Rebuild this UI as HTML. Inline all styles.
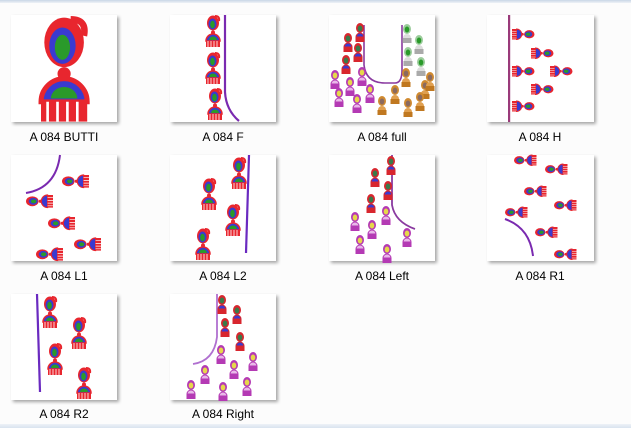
<!DOCTYPE html>
<html><head><meta charset="utf-8"><style>
html,body{margin:0;padding:0;background:#fcfcfc;}
body{width:631px;height:428px;position:relative;overflow:hidden;font-family:"Liberation Sans",sans-serif;}
.top{position:absolute;left:0;top:0;width:631px;height:3px;background:linear-gradient(#c9d6e6,#eef2f7);}
.bot{position:absolute;left:0;top:424px;width:631px;height:4px;background:linear-gradient(#eef2f7,#d9e3ef);}
.lab{position:absolute;width:150px;text-align:center;font-size:12px;color:#000;}
svg{position:absolute;left:0;top:0;}
</style></head><body>
<div class="top"></div><div class="bot"></div>
<svg width="631" height="428" viewBox="0 0 631 428">
<defs>
<filter id="sh" x="-10%" y="-10%" width="130%" height="130%"><feDropShadow dx="2" dy="2" stdDeviation="1.5" flood-color="#000" flood-opacity="0.35"/></filter>
<g id="V">
 <ellipse cx="7" cy="8" rx="6" ry="7.5" fill="#e8262e"/>
 <path d="M9 1 q5 0 4 5" stroke="#e8262e" stroke-width="2" fill="none"/>
 <ellipse cx="6.5" cy="9" rx="4" ry="5.5" fill="#3a3ad0"/>
 <ellipse cx="6.5" cy="9.5" rx="2.3" ry="3.8" fill="#2a9a2a"/>
 <circle cx="7" cy="17.5" r="2" fill="#e8262e"/>
 <path d="M0 26 a7 7 0 0 1 14 0z" fill="#3a3ad0" stroke="#e8262e" stroke-width="1.5"/>
 <path d="M3 25 a4 3.5 0 0 1 8 0z" fill="#2a9a2a"/>
 <rect x="0" y="26" width="14" height="6" fill="#e8262e"/>
 <path d="M2 26v6M5 26v6M8 26v6M11 26v6" stroke="#fff" stroke-width="0.8"/>
</g>
<g id="P">
 <ellipse cx="5" cy="5" rx="4" ry="5" fill="#b43ab4"/>
 <ellipse cx="5" cy="5.5" rx="2.3" ry="3" fill="#e6d84a"/>
 <path d="M1 14 a4 4 0 0 1 8 0z" fill="#e9b8e9" stroke="#b43ab4"/>
 <rect x="0.5" y="14" width="9" height="5" fill="#b43ab4"/>
</g>
<g id="R">
 <ellipse cx="5" cy="5" rx="4" ry="5" fill="#d8262e"/>
 <ellipse cx="5" cy="5.5" rx="2.3" ry="3" fill="#3a7a4a"/>
 <path d="M1 14 a4 4 0 0 1 8 0z" fill="#3a3ad0" stroke="#d8262e"/>
 <rect x="0.5" y="14" width="9" height="5" fill="#d8262e"/>
</g>
<g id="G">
 <ellipse cx="5" cy="5" rx="4" ry="5" fill="#9ccc9c"/>
 <ellipse cx="5" cy="5.5" rx="2.3" ry="3" fill="#2a9a2a"/>
 <path d="M1 14 a4 4 0 0 1 8 0z" fill="#ddd"/>
 <rect x="0.5" y="14" width="9" height="5" fill="#aaa"/>
</g>
<g id="O">
 <ellipse cx="5" cy="5" rx="4" ry="5" fill="#d08a30"/>
 <ellipse cx="5" cy="5.5" rx="2.3" ry="3" fill="#8a6a60"/>
 <path d="M1 14 a4 4 0 0 1 8 0z" fill="#e0a050"/>
 <rect x="0.5" y="14" width="9" height="5" fill="#c07820"/>
</g>
<g id="HL">
 <ellipse cx="7" cy="7" rx="7" ry="5.5" fill="#e8262e"/>
 <ellipse cx="8" cy="7" rx="5" ry="3.8" fill="#3a3ad0"/>
 <ellipse cx="8.5" cy="7" rx="3" ry="2.2" fill="#2a9a2a"/>
 <circle cx="16" cy="7" r="1.8" fill="#e8262e"/>
 <path d="M24 0 a7 7 0 0 0 0 14z" fill="#3a3ad0" stroke="#e8262e" stroke-width="1.3"/>
 <rect x="24" y="0" width="6" height="14" fill="#e8262e"/>
 <path d="M24 3h6M24 6h6M24 9h6M24 12h6" stroke="#fff" stroke-width="0.8"/>
</g>
<g id="HR"><use href="#HL" transform="translate(30,0) scale(-1,1)"/></g>
</defs>

<g fill="#fff" filter="url(#sh)">
<rect x="11" y="15" width="106" height="107"/><rect x="170" y="15" width="106" height="107"/><rect x="329" y="15" width="106" height="107"/><rect x="487" y="15" width="107" height="107"/>
<rect x="11" y="155" width="106" height="106"/><rect x="170" y="155" width="106" height="106"/><rect x="329" y="155" width="106" height="106"/><rect x="487" y="155" width="107" height="106"/>
<rect x="11" y="294" width="106" height="106"/><rect x="170" y="294" width="106" height="106"/>
</g>

<use href="#V" transform="translate(41,16) scale(3.3,3.3)"/>

<path d="M225 15 V92 Q226 110 239 121" stroke="#7a2ab0" stroke-width="2.2" fill="none"/>
<use href="#V" transform="translate(206,15)"/><use href="#V" transform="translate(206,52)"/><use href="#V" transform="translate(208,88)"/>

<path d="M364 25 V65 Q366 83 385 83 H395 Q402 83 402 70 V25" stroke="#8a3aa0" stroke-width="1.6" fill="none"/>
<use href="#R" transform="translate(355,23)"/><use href="#R" transform="translate(343,33)"/><use href="#R" transform="translate(353,43)"/><use href="#R" transform="translate(341,55)"/>
<use href="#P" transform="translate(330,70)"/><use href="#P" transform="translate(345,77)"/><use href="#P" transform="translate(357,67)"/><use href="#P" transform="translate(334,88)"/><use href="#P" transform="translate(352,94)"/><use href="#P" transform="translate(365,84)"/>
<use href="#G" transform="translate(402,24)"/><use href="#G" transform="translate(414,35)"/><use href="#G" transform="translate(403,47)"/><use href="#G" transform="translate(416,57)"/>
<use href="#O" transform="translate(401,68)"/><use href="#O" transform="translate(420,80)"/><use href="#O" transform="translate(425,72)"/><use href="#O" transform="translate(390,85)"/><use href="#O" transform="translate(377,96)"/><use href="#O" transform="translate(403,98)"/><use href="#O" transform="translate(415,92)"/>

<rect x="508" y="15" width="2.2" height="107" fill="#9a3a7a"/>
<use href="#HR" transform="translate(512,29) scale(0.75)"/><use href="#HR" transform="translate(531,48) scale(0.75)"/><use href="#HR" transform="translate(512,66) scale(0.75)"/><use href="#HR" transform="translate(550,66) scale(0.75)"/><use href="#HR" transform="translate(531,84) scale(0.75)"/><use href="#HR" transform="translate(512,101) scale(0.75)"/>

<path d="M60 155 Q56 188 26 193" stroke="#7a2ab0" stroke-width="2" fill="none"/>
<use href="#HL" transform="translate(62,175) scale(0.9)"/><use href="#HL" transform="translate(26,195) scale(0.9)"/><use href="#HL" transform="translate(48,217) scale(0.9)"/><use href="#HL" transform="translate(74,238) scale(0.9)"/><use href="#HL" transform="translate(36,248) scale(0.9)"/>

<path d="M249 155 L246 253" stroke="#6a2ac0" stroke-width="2.2"/>
<use href="#V" transform="translate(232,157)"/><use href="#V" transform="translate(202,178)"/><use href="#V" transform="translate(226,204)"/><use href="#V" transform="translate(196,228)"/>

<path d="M392 155 V205 Q395 222 415 229" stroke="#8a3aa0" stroke-width="1.8" fill="none"/>
<use href="#R" transform="translate(386,156)"/><use href="#R" transform="translate(370,168)"/><use href="#R" transform="translate(383,181)"/><use href="#R" transform="translate(366,194)"/>
<use href="#P" transform="translate(381,206)"/><use href="#P" transform="translate(350,212)"/><use href="#P" transform="translate(367,220)"/><use href="#P" transform="translate(402,228)"/><use href="#P" transform="translate(355,235)"/><use href="#P" transform="translate(382,244)"/>

<path d="M505 219 Q530 228 533 256" stroke="#7a2ab0" stroke-width="2" fill="none"/>
<use href="#HL" transform="translate(514,155) scale(0.75)"/><use href="#HL" transform="translate(545,164) scale(0.75)"/><use href="#HL" transform="translate(524,186) scale(0.75)"/><use href="#HL" transform="translate(554,200) scale(0.75)"/><use href="#HL" transform="translate(505,207) scale(0.75)"/><use href="#HL" transform="translate(535,227) scale(0.75)"/><use href="#HL" transform="translate(554,249) scale(0.75)"/>

<path d="M37 294 L40 392" stroke="#6a2ac0" stroke-width="2.2"/>
<use href="#V" transform="translate(43,296)"/><use href="#V" transform="translate(72,317)"/><use href="#V" transform="translate(48,343)"/><use href="#V" transform="translate(77,367)"/>

<path d="M217 294 V337 Q214 361 193 364" stroke="#b070d0" stroke-width="1.8" fill="none"/>
<use href="#R" transform="translate(217,295)"/><use href="#R" transform="translate(232,305)"/><use href="#R" transform="translate(220,318)"/><use href="#R" transform="translate(235,332)"/>
<use href="#P" transform="translate(216,345)"/><use href="#P" transform="translate(248,352)"/><use href="#P" transform="translate(200,365)"/><use href="#P" transform="translate(229,360)"/><use href="#P" transform="translate(242,377)"/><use href="#P" transform="translate(186,380)"/><use href="#P" transform="translate(218,382)"/>
</svg>

<div class="lab" style="left:-11px;top:130px">A 084 BUTTI</div>
<div class="lab" style="left:148px;top:130px">A 084 F</div>
<div class="lab" style="left:307px;top:130px">A 084 full</div>
<div class="lab" style="left:465px;top:130px">A 084 H</div>
<div class="lab" style="left:-11px;top:269px">A 084 L1</div>
<div class="lab" style="left:148px;top:269px">A 084 L2</div>
<div class="lab" style="left:307px;top:269px">A 084 Left</div>
<div class="lab" style="left:465px;top:269px">A 084 R1</div>
<div class="lab" style="left:-11px;top:407px">A 084 R2</div>
<div class="lab" style="left:148px;top:407px">A 084 Right</div>
</body></html>
